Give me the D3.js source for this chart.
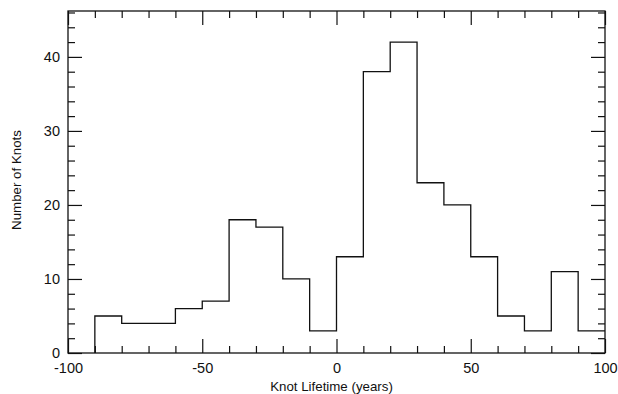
<html>
<head>
<meta charset="utf-8">
<style>
  body { margin: 0; background: #fff; }
  text { font-family: "Liberation Sans", Arial, sans-serif; fill: #111; }
</style>
</head>
<body>
<svg width="618" height="394"></svg>
<script src="https://d3js.org/d3.v7.min.js"></script>
<script>
// histogram bins: left edge of each 10-year bin and the knot count in it
var binStart = [-90, -80, -70, -60, -50, -40, -30, -20, -10, 0, 10, 20, 30, 40, 50, 60, 70, 80, 90];
var counts   = [5, 4, 4, 6, 7, 18, 17, 10, 3, 13, 38, 42, 23, 20, 13, 5, 3, 11, 3];
var binWidth = 10;

var xTicks = [-100, -50, 0, 50, 100];
var yTicks = [0, 10, 20, 30, 40];

var margin = { top: 11, right: 13, bottom: 41, left: 68 };
var width = 618 - margin.left - margin.right;
var height = 394 - margin.top - margin.bottom;

var svg = d3.select("svg");
var g = svg.append("g")
  .attr("transform", "translate(" + margin.left + "," + margin.top + ")");

var x = d3.scaleLinear().domain([-100, 100]).range([0, width]);
var y = d3.scaleLinear().domain([0, 46.2]).range([height, 0]);

var xMinor = d3.range(-100, 101, 10).filter(function(d){ return xTicks.indexOf(d) < 0; });
var yMinor = d3.range(0, 47, 2).filter(function(d){ return yTicks.indexOf(d) < 0; });

var plain = function(d){ return String(d); };

function styleAxis(sel) {
  sel.select(".domain").remove();
  sel.selectAll("line").attr("stroke", "#111").attr("stroke-width", 1.2);
  sel.selectAll("text").attr("font-size", 14.5).attr("fill", "#111");
}

// bottom
g.append("g").attr("transform", "translate(0," + height + ")")
  .call(d3.axisBottom(x).tickValues(xTicks).tickSize(-14).tickPadding(10).tickFormat(plain))
  .call(styleAxis);
g.append("g").attr("transform", "translate(0," + height + ")")
  .call(d3.axisBottom(x).tickValues(xMinor).tickSize(-7).tickFormat(""))
  .call(styleAxis);
// top
g.append("g")
  .call(d3.axisTop(x).tickValues(xTicks).tickSize(-14).tickFormat(""))
  .call(styleAxis);
g.append("g")
  .call(d3.axisTop(x).tickValues(xMinor).tickSize(-7).tickFormat(""))
  .call(styleAxis);
// left
g.append("g")
  .call(d3.axisLeft(y).tickValues(yTicks).tickSize(-14).tickPadding(8).tickFormat(plain))
  .call(styleAxis);
g.append("g")
  .call(d3.axisLeft(y).tickValues(yMinor).tickSize(-7).tickFormat(""))
  .call(styleAxis);
// right
g.append("g").attr("transform", "translate(" + width + ",0)")
  .call(d3.axisRight(y).tickValues(yTicks).tickSize(-14).tickFormat(""))
  .call(styleAxis);
g.append("g").attr("transform", "translate(" + width + ",0)")
  .call(d3.axisRight(y).tickValues(yMinor).tickSize(-7).tickFormat(""))
  .call(styleAxis);

// frame
g.append("rect")
  .attr("x", 0).attr("y", 0)
  .attr("width", width).attr("height", height)
  .attr("fill", "none").attr("stroke", "#111").attr("stroke-width", 1.3);

// step outline of the histogram
var pts = [{ x: binStart[0], y: 0 }];
binStart.forEach(function(b, i) { pts.push({ x: b, y: counts[i] }); });
pts.push({ x: binStart[binStart.length - 1] + binWidth, y: counts[counts.length - 1] });

var line = d3.line()
  .x(function(d){ return x(d.x); })
  .y(function(d){ return y(d.y); })
  .curve(d3.curveStepAfter);

g.append("path")
  .datum(pts)
  .attr("d", line)
  .attr("fill", "none")
  .attr("stroke", "#111")
  .attr("stroke-width", 1.3);

// axis titles
svg.append("text")
  .attr("x", margin.left + x(0) - 5)
  .attr("y", 391)
  .attr("text-anchor", "middle")
  .attr("font-size", 13.3)
  .text("Knot Lifetime (years)");

svg.append("text")
  .attr("transform", "translate(21," + 180 + ") rotate(-90)")
  .attr("text-anchor", "middle")
  .attr("font-size", 13.3)
  .text("Number of Knots");
</script>
</body>
</html>
